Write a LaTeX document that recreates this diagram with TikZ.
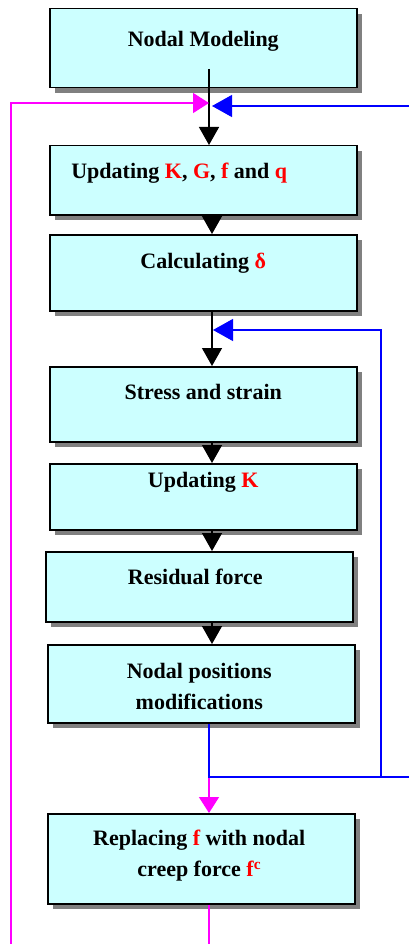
\documentclass[tikz,border=0pt]{standalone}
\usepackage{fontspec}
\setmainfont{Liberation Serif}
\usetikzlibrary{arrows.meta,shadows,calc}
\definecolor{boxfill}{HTML}{CCFFFF}
\definecolor{magc}{HTML}{FF00FF}
\definecolor{bluc}{HTML}{0000FF}
\definecolor{redc}{HTML}{FF0000}
\newcommand{\rd}[1]{\textcolor{redc}{#1}}
\begin{document}
\begin{tikzpicture}[x=1pt,y=-1pt,
  flowbox/.style={draw=black, line width=1.5pt, fill=boxfill, inner sep=0pt,
    anchor=north west, minimum width=307pt,
    drop shadow={shadow xshift=5pt, shadow yshift=-5pt, fill=black!50, opacity=1}},
  lbl/.style={font=\bfseries\fontsize{22}{31}\selectfont, align=center, inner sep=0pt},
  tip/.style={-{Triangle[width=20pt,length=18pt]}},
  blk/.style={draw=black, line width=1.4pt, tip},
  magline/.style={draw=magc, line width=1.5pt},
  bluline/.style={draw=bluc, line width=1.3pt}]
\useasboundingbox (0,0) rectangle (409,944);
% boxes
\node[flowbox, minimum height=79pt] (b1) at (49,8) {};
\node[flowbox, minimum height=69pt] (b2) at (49,145) {};
\node[flowbox, minimum height=76pt] (b3) at (49,234) {};
\node[flowbox, minimum height=75pt] (b4) at (49,366) {};
\node[flowbox, minimum height=66pt] (b5) at (49,463) {};
\node[flowbox, minimum height=70pt] (b6) at (45,551) {};
\node[flowbox, minimum height=78pt] (b7) at (47,644) {};
\node[flowbox, minimum height=90pt] (b8) at (47,813) {};
% labels
\node[lbl] (t1) at ($(b1.north)+(0,33)$) {Nodal Modeling};
\node[lbl] (t2) at ($(b2.north)+(-24,28)$) {Updating \rd{K}, \rd{G}, \rd{f} and \rd{q}};
\node[lbl] (t3) at ($(b3.north)+(0,29)$) {Calculating \rd{δ}};
\node[lbl] (t4) at ($(b4.north)+(0,26)$) {Stress and strain};
\node[lbl] (t5) at ($(b5.north)+(0,19)$) {Updating \rd{K}};
\node[lbl] (t6) at ($(b6.north)+(-4,26)$) {Residual force};
\node[lbl] (t7) at ($(b7.north)+(-2,42)$) {Nodal positions\\modifications};
\node[lbl] (t8) at ($(b8.north)+(-2,43)$) {Replacing \rd{f} with nodal\\creep force \rd{f\textsuperscript{c}}};
% reference coordinates
\coordinate (cx) at (212,0);
\coordinate (cx0) at (209,0);
\coordinate (s1) at (209,69);
\coordinate (mj) at (209,103);
\coordinate (bjtop) at (212,106);
\coordinate (bj) at (381,777);
\coordinate (mj2) at (209,777);
\coordinate (bj2) at (213,330);
% black connectors
\draw[blk] (s1) -- (s1 |- b2.north);
\draw[blk] (b2.south -| cx) -- (b3.north -| cx);
\draw[blk] (b3.south -| cx) -- (b4.north -| cx);
\draw[blk] (b4.south -| cx) -- (b5.north -| cx);
\draw[blk] (b5.south -| cx) -- (b6.north -| cx);
\draw[blk] (b6.south -| cx) -- (b7.north -| cx);
% magenta loop
\draw[magline, -{Triangle[width=20pt,length=16pt]}] (b8.south -| cx0) -- ++(0,60) -| (11,103) -- (mj);
\draw[magline, -{Triangle[width=20pt,length=16pt]}] (mj2) -- (b8.north -| cx0);
% blue loops
\draw[bluline, -{Triangle[width=22pt,length=20pt]}] (b7.south -| cx0) |- (425,777) |- (bjtop);
\draw[bluline, -{Triangle[width=22pt,length=20pt]}] (bj) |- (bj2);
\end{tikzpicture}
\end{document}
